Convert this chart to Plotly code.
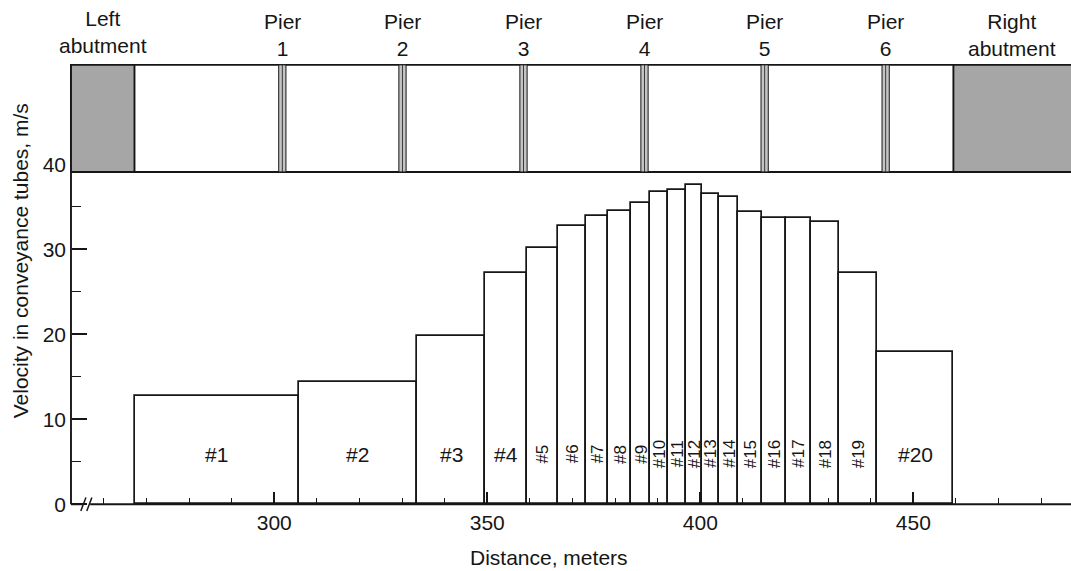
import plotly.graph_objects as go

# ---- data -------------------------------------------------------------
# boundaries of the 20 conveyance tubes along the bridge opening (m)
tube_edges_m = [267.3, 305.8, 333.5, 349.5, 359.3, 366.6, 373.2, 378.4, 383.8,
                388.2, 392.4, 396.7, 400.4, 404.4, 408.9, 414.5, 420.1, 426.0,
                432.6, 441.5, 459.4]
# mean velocity in each tube (m/s)
velocity_ms = [12.8, 14.4, 19.8, 27.2, 30.2, 32.8, 33.9, 34.5, 35.5, 36.7,
               37.0, 37.6, 36.5, 36.2, 34.4, 33.7, 33.7, 33.2, 27.2, 17.9]
tube_labels = ["#%d" % i for i in range(1, 21)]
upright_labels = ["#1", "#2", "#3", "#4", "#20"]

# bridge layout (m)
pier_names = ["1", "2", "3", "4", "5", "6"]
pier_stations_m = [301.9, 330.1, 358.5, 386.9, 415.1, 443.5]
left_abutment_m = [252.3, 267.2]
right_abutment_m = [459.4, 490.0]

x_major_ticks = [300, 350, 400, 450]
x_minor_ticks = [260, 270, 280, 290, 310, 320, 330, 340, 360, 370, 380, 390,
                 410, 420, 430, 440, 460, 470, 480]
y_major_ticks = [0, 10, 20, 30, 40]
y_minor_ticks = [5, 15, 25, 35]

# ---- styling ----------------------------------------------------------
FONT = "Liberation Sans, Arial, sans-serif"
INK = "#161616"
GREY = "#a6a6a6"
W, H = 1071, 571
ML, MR, MT, MB = 60, 0, 0, 57
X_RANGE = [249.72, 487.0]
Y_RANGE = [-1.141, 59.329]
X_ORIGIN = 252.3           # where the velocity axis stands
DECK_BOTTOM, DECK_TOP = 39.1, 51.7
TXT = 21

centers = [(a + b) / 2 for a, b in zip(tube_edges_m[:-1], tube_edges_m[1:])]
widths = [b - a for a, b in zip(tube_edges_m[:-1], tube_edges_m[1:])]

fig = go.Figure()
fig.add_trace(go.Bar(
    x=centers, y=velocity_ms, width=widths,
    marker=dict(color="white", line=dict(color=INK, width=1.7)),
    hoverinfo="skip", showlegend=False,
))

shapes = []


def line(x0, y0, x1, y1, w=1.9):
    shapes.append(dict(type="line", xref="x", yref="y", x0=x0, y0=y0,
                       x1=x1, y1=y1, line=dict(color=INK, width=w),
                       layer="above"))


# velocity axis and distance axis (with a break near the origin)
line(X_ORIGIN, 0, X_ORIGIN, DECK_BOTTOM)
line(X_ORIGIN, 0, 255.0, 0)
line(256.8, 0, X_RANGE[1] + 1, 0)
for bx in (255.2, 256.6):
    line(bx - 0.6, -0.8, bx + 0.6, 0.8, w=1.5)

# bridge deck strip with abutments and piers
shapes.append(dict(type="rect", xref="x", yref="y", x0=left_abutment_m[0],
                   x1=right_abutment_m[1], y0=DECK_BOTTOM, y1=DECK_TOP,
                   fillcolor="white", line=dict(color=INK, width=1.9),
                   layer="above"))
for a0, a1 in (left_abutment_m, right_abutment_m):
    shapes.append(dict(type="rect", xref="x", yref="y", x0=a0, x1=a1,
                       y0=DECK_BOTTOM, y1=DECK_TOP, fillcolor=GREY,
                       line=dict(color=INK, width=1.9), layer="above"))
for p in pier_stations_m:
    shapes.append(dict(type="rect", xref="x", yref="y", x0=p - 0.85,
                       x1=p + 0.85, y0=DECK_BOTTOM, y1=DECK_TOP,
                       fillcolor="#c4c4c4", line=dict(color=INK, width=1),
                       layer="above"))
    line(p, DECK_BOTTOM, p, DECK_TOP, w=0.8)

annotations = []
txt = dict(family=FONT, color=INK)

# tube numbers
for c, lab in zip(centers, tube_labels):
    upright = lab in upright_labels
    annotations.append(dict(
        x=c, y=5.9, xref="x", yref="y", text=lab, showarrow=False,
        textangle=0 if upright else -90,
        font=dict(txt, size=TXT if upright else 17),
        xanchor="center", yanchor="middle"))

# pier and abutment names above the deck
for name, p in zip(pier_names, pier_stations_m):
    annotations.append(dict(x=p, y=55.2, xref="x", yref="y",
                            text="Pier<br>" + name, showarrow=False,
                            font=dict(txt, size=TXT), align="center",
                            xanchor="center", yanchor="middle"))
annotations.append(dict(x=sum(left_abutment_m) / 2, y=55.6, xref="x",
                        yref="y", text="Left<br>abutment", showarrow=False,
                        font=dict(txt, size=TXT), align="center",
                        xanchor="center", yanchor="middle"))
annotations.append(dict(x=473.2, y=55.2, xref="x", yref="y",
                        text="Right<br>abutment", showarrow=False,
                        font=dict(txt, size=TXT), align="center",
                        xanchor="center", yanchor="middle"))

# axis titles
annotations.append(dict(x=364.6, y=-0.0856, xref="x", yref="paper",
                        text="Distance, meters", showarrow=False,
                        font=dict(txt, size=TXT),
                        xanchor="center", yanchor="middle"))
annotations.append(dict(x=-0.0396, y=28.7, xref="paper", yref="y",
                        text="Velocity in conveyance tubes, m/s",
                        textangle=-90, showarrow=False,
                        font=dict(txt, size=TXT),
                        xanchor="center", yanchor="middle"))

fig.update_layout(
    width=W, height=H,
    margin=dict(l=ML, r=MR, t=MT, b=MB, pad=0),
    paper_bgcolor="white", plot_bgcolor="white",
    showlegend=False, bargap=0,
    shapes=shapes, annotations=annotations,
    xaxis=dict(
        range=X_RANGE, anchor="free",
        position=(0 - Y_RANGE[0]) / (Y_RANGE[1] - Y_RANGE[0]),
        showline=False, showgrid=False, zeroline=False,
        tickmode="array", tickvals=x_major_ticks,
        ticks="inside", ticklen=12, tickwidth=1.7, tickcolor=INK,
        tickfont=dict(txt, size=TXT), ticklabelstandoff=4,
        minor=dict(tickmode="array", tickvals=x_minor_ticks, ticks="inside",
                   ticklen=6, tickwidth=1.3, tickcolor=INK, showgrid=False),
    ),
    yaxis=dict(
        range=Y_RANGE, anchor="free",
        position=(X_ORIGIN - X_RANGE[0]) / (X_RANGE[1] - X_RANGE[0]),
        showline=False, showgrid=False, zeroline=False,
        tickmode="array", tickvals=y_major_ticks,
        ticks="inside", ticklen=15, tickwidth=1.7, tickcolor=INK,
        tickfont=dict(txt, size=TXT), ticklabelstandoff=5,
        minor=dict(tickmode="array", tickvals=y_minor_ticks, ticks="inside",
                   ticklen=9, tickwidth=1.3, tickcolor=INK, showgrid=False),
    ),
)

fig.write_html("out.html", config={"displayModeBar": False})
